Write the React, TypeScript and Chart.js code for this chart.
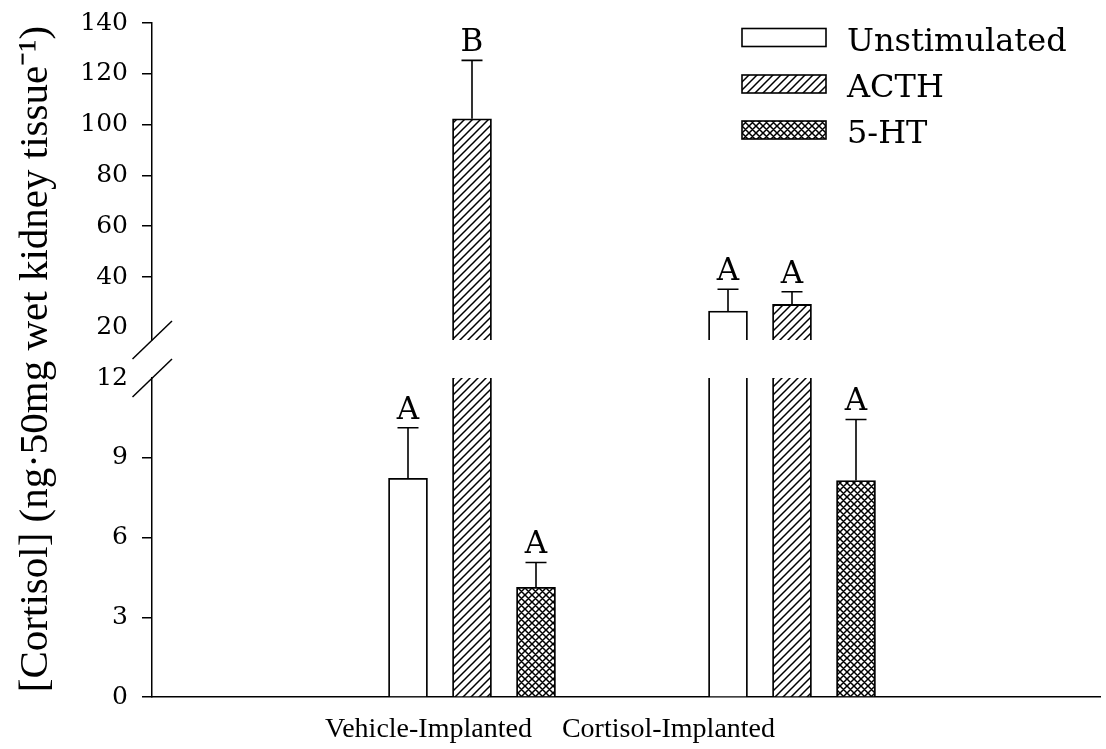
import React, { useEffect, useRef } from 'react';
import { Chart, registerables } from 'chart.js';

Chart.register(...registerables);

// ---- data ----
const groups = ['Vehicle-Implanted', 'Cortisol-Implanted'];
const groupLabelPositions = [0.864, 1.614];
const seriesNames = ['Unstimulated', 'ACTH', '5-HT'];
const unstimulated = [8.23, 26.6];
const acth = [102.3, 29.2];
const serotonin = [4.13, 8.14];
const unstimulatedErr = [1.9, 8.6];
const acthErr = [23.0, 5.0];
const serotoninErr = [0.93, 2.3];
const unstimulatedLetters = ['A', 'A'];
const acthLetters = ['B', 'A'];
const serotoninLetters = ['A', 'A'];
const upperTicks = [20, 40, 60, 80, 100, 120, 140];
const lowerTicks = [0, 3, 6, 9, 12];
const upperRange = [15.2, 140];
const lowerRange = [0, 12];
const yTitle = '[Cortisol] (ng\u00B750mg wet kidney tissue\u207B\u00B9)';

const groupX = [1, 2];
const seriesOffset = [-0.2, 0, 0.2];

function makeHatch(): CanvasPattern | string {
  const c = document.createElement('canvas');
  c.width = 8; c.height = 8;
  const g = c.getContext('2d');
  if (!g) return '#fff';
  g.fillStyle = '#fff'; g.fillRect(0, 0, 8, 8);
  g.strokeStyle = '#000'; g.lineWidth = 1.5;
  g.beginPath();
  g.moveTo(-2, 10); g.lineTo(10, -2);
  g.moveTo(-2, 2); g.lineTo(2, -2);
  g.moveTo(6, 10); g.lineTo(10, 6);
  g.stroke();
  return g.createPattern(c, 'repeat') || '#fff';
}

function makeCross(): CanvasPattern | string {
  const n = 7;
  const c = document.createElement('canvas');
  c.width = n; c.height = n;
  const g = c.getContext('2d');
  if (!g) return '#fff';
  g.fillStyle = '#fff'; g.fillRect(0, 0, n, n);
  g.strokeStyle = '#000'; g.lineWidth = 1.5;
  g.beginPath();
  g.moveTo(-2, n + 2); g.lineTo(n + 2, -2);
  g.moveTo(-2, 2); g.lineTo(2, -2);
  g.moveTo(n - 2, n + 2); g.lineTo(n + 2, n - 2);
  g.moveTo(-2, -2); g.lineTo(n + 2, n + 2);
  g.moveTo(-2, n - 2); g.lineTo(2, n + 2);
  g.moveTo(n - 2, -2); g.lineTo(n + 2, 2);
  g.stroke();
  return g.createPattern(c, 'repeat') || '#fff';
}

export default function App() {
  const ref = useRef<HTMLCanvasElement | null>(null);

  useEffect(() => {
    document.body.style.margin = '0';
    document.body.style.overflow = 'hidden';
    const canvas = ref.current;
    if (!canvas) return;

    const fills = ['#ffffff', makeHatch(), makeCross()];
    const values = [unstimulated, acth, serotonin];
    const errs = [unstimulatedErr, acthErr, serotoninErr];
    const letters = [unstimulatedLetters, acthLetters, serotoninLetters];

    const makeSets = (axis: 'yTop' | 'yBottom') =>
      seriesNames.map((name, si) => ({
        label: name,
        data: groupX.map((gx, gi) => ({
          x: gx + seriesOffset[si],
          y: axis === 'yTop' ? (values[si][gi] > upperRange[0] ? values[si][gi] : null) : values[si][gi],
        })),
        yAxisID: axis,
        backgroundColor: fills[si],
        borderColor: '#000',
        borderWidth: 1.8,
        borderSkipped: 'start',
        barThickness: 39,
        grouped: false,
        clip: 0,
      }));

    const helper = {
      id: 'brokenAxisHelper',
      beforeDatasetDraw(chart: any, args: any) {
        const ys = args.meta.yScale;
        const ctx = chart.ctx;
        ctx.save();
        ctx.beginPath();
        ctx.rect(chart.chartArea.left, ys.top, chart.chartArea.right - chart.chartArea.left, ys.bottom - ys.top);
        ctx.clip();
      },
      afterDatasetDraw(chart: any) {
        chart.ctx.restore();
      },
      afterDatasetsDraw(chart: any) {
        const ctx = chart.ctx;
        const xs = chart.scales.x;
        const top = chart.scales.yTop;
        const bot = chart.scales.yBottom;
        ctx.save();
        ctx.strokeStyle = '#000';
        ctx.lineWidth = 1.6;
        ctx.fillStyle = '#000';
        ctx.font = '31px "DejaVu Serif"';
        ctx.textAlign = 'center';
        ctx.textBaseline = 'alphabetic';
        values.forEach((vals, si) => {
          vals.forEach((v, gi) => {
            const scale = v > lowerRange[1] ? top : bot;
            const px = xs.getPixelForValue(groupX[gi] + seriesOffset[si]);
            const y0 = scale.getPixelForValue(v);
            const y1 = scale.getPixelForValue(v + errs[si][gi]);
            ctx.beginPath();
            ctx.moveTo(px, y0);
            ctx.lineTo(px, y1);
            ctx.moveTo(px - 10.5, y1);
            ctx.lineTo(px + 10.5, y1);
            ctx.stroke();
            ctx.fillText(letters[si][gi], px, y1 - 9);
          });
        });
        // axis break marks
        const L = chart.chartArea.left;
        ctx.lineWidth = 1.5;
        [top.bottom, bot.top].forEach((y: number) => {
          ctx.beginPath();
          ctx.moveTo(L - 19.5, y + 19);
          ctx.lineTo(L + 20, y - 19);
          ctx.stroke();
        });
        ctx.restore();
      },
      afterDraw(chart: any) {
        const ctx = chart.ctx;
        const R = chart.chartArea.right;
        const T = chart.chartArea.top;
        ctx.save();
        ctx.font = '32px "DejaVu Serif"';
        ctx.textAlign = 'left';
        ctx.textBaseline = 'alphabetic';
        const rowCenters = [14.5, 61, 107];
        seriesNames.forEach((name, si) => {
          const cy = T + rowCenters[si];
          ctx.fillStyle = fills[si];
          ctx.fillRect(R - 358, cy - 9, 84, 18);
          ctx.strokeStyle = '#000';
          ctx.lineWidth = 1.6;
          ctx.strokeRect(R - 358, cy - 9, 84, 18);
          ctx.fillStyle = '#000';
          ctx.fillText(name, R - 253, cy + 13);
        });
        ctx.restore();
      },
    };

    const fitY = (s: any) => { s.width = 152; s.paddingTop = 0; s.paddingBottom = 0; };

    const chart = new Chart(canvas, {
      type: 'bar',
      data: { datasets: [...makeSets('yTop'), ...makeSets('yBottom')] as any },
      options: {
        animation: false,
        responsive: false,
        events: [],
        layout: { padding: { top: 23, right: 6, left: 0, bottom: 0 } },
        plugins: { legend: { display: false }, tooltip: { enabled: false } },
        scales: {
          x: {
            type: 'linear',
            position: 'bottom',
            offset: false,
            min: 0,
            max: 2.9625,
            afterBuildTicks: (s: any) => { s.ticks = groupLabelPositions.map((v) => ({ value: v })); },
            afterFit: (s: any) => { s.height = 52; s.paddingLeft = 0; s.paddingRight = 0; },
            grid: { display: false, drawTicks: false },
            border: { display: true, color: '#000', width: 1.5 },
            ticks: {
              color: '#000',
              font: { family: 'Liberation Serif', size: 28 },
              padding: 16,
              maxRotation: 0,
              autoSkip: false,
              callback: (_v: any, i: number) => groups[i],
            },
          },
          yTop: {
            type: 'linear',
            position: 'left',
            stack: 'y',
            stackWeight: 317,
            weight: 2,
            min: upperRange[0],
            max: upperRange[1],
            afterBuildTicks: (s: any) => { s.ticks = upperTicks.map((v) => ({ value: v })); },
            afterFit: fitY,
            grid: {
              display: true, drawOnChartArea: false, drawTicks: true, tickLength: 10, lineWidth: 1.5,
              tickColor: (c: any) => (c.index === 0 ? 'rgba(0,0,0,0)' : '#000'),
            },
            border: { display: true, color: '#000', width: 1.5 },
            ticks: { color: '#000', padding: 14, autoSkip: false, font: { family: 'DejaVu Serif', size: 25 } },
          },
          yGap: {
            type: 'linear',
            position: 'left',
            stack: 'y',
            stackWeight: 38,
            weight: 1,
            afterFit: fitY,
            grid: { display: false, drawTicks: false },
            border: { display: false },
            ticks: { display: false },
            title: {
              display: true, text: yTitle, color: '#000',
              font: { family: 'Liberation Serif', size: 41 },
              padding: { top: 12, bottom: 0 },
            },
          },
          yBottom: {
            type: 'linear',
            position: 'left',
            stack: 'y',
            stackWeight: 319,
            weight: 0,
            min: lowerRange[0],
            max: lowerRange[1],
            afterBuildTicks: (s: any) => { s.ticks = lowerTicks.map((v) => ({ value: v })); },
            afterFit: fitY,
            grid: {
              display: true, drawOnChartArea: false, drawTicks: true, tickLength: 10, lineWidth: 1.5,
              tickColor: (c: any) => (c.index === lowerTicks.length - 1 ? 'rgba(0,0,0,0)' : '#000'),
            },
            border: { display: true, color: '#000', width: 1.5 },
            ticks: { color: '#000', padding: 14, autoSkip: false, font: { family: 'DejaVu Serif', size: 25 } },
          },
        },
      } as any,
      plugins: [helper],
    });

    return () => chart.destroy();
  }, []);

  return (
    <div style={{ width: 1106, height: 749 }}>
      <canvas ref={ref} width={1106} height={749} style={{ display: 'block' }} />
    </div>
  );
}
